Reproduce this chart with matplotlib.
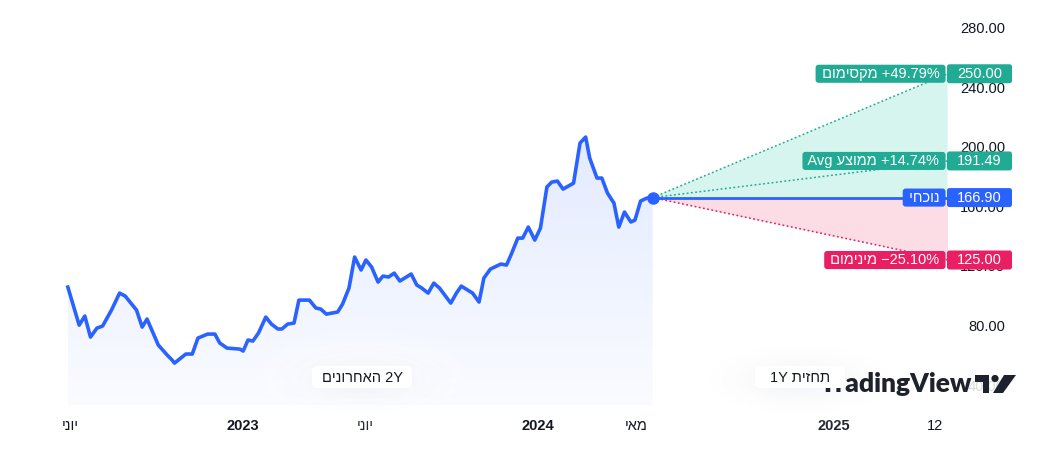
import matplotlib

matplotlib.use("Agg")
import matplotlib.dates as mdates
import matplotlib.pyplot as plt
import numpy as np
import pandas as pd
from matplotlib.colors import to_rgb
from matplotlib.patches import Circle, FancyBboxPatch, Polygon, Rectangle
from matplotlib.transforms import blended_transform_factory

# price history (turning points only)
dates = [
    "2022-05-29", "2022-06-12", "2022-06-19", "2022-06-26", "2022-07-04", "2022-07-11",
    "2022-07-22", "2022-08-01", "2022-08-08", "2022-08-22", "2022-08-29", "2022-09-04",
    "2022-09-18", "2022-09-29", "2022-10-05", "2022-10-08", "2022-10-22", "2022-10-30",
    "2022-11-06", "2022-11-18", "2022-11-27", "2022-12-03", "2022-12-12", "2022-12-28",
    "2023-01-01", "2023-01-07", "2023-01-13", "2023-01-20", "2023-01-29", "2023-02-05",
    "2023-02-13", "2023-02-18", "2023-02-25", "2023-03-05", "2023-03-11", "2023-03-24",
    "2023-04-01", "2023-04-07", "2023-04-14", "2023-04-28", "2023-05-04", "2023-05-12",
    "2023-05-19", "2023-05-27", "2023-06-02", "2023-06-09", "2023-06-17", "2023-06-23",
    "2023-06-30", "2023-07-07", "2023-07-14", "2023-07-28", "2023-08-04", "2023-08-10",
    "2023-08-18", "2023-08-25", "2023-09-01", "2023-09-15", "2023-09-22", "2023-09-28",
    "2023-10-12", "2023-10-20", "2023-10-26", "2023-11-03", "2023-11-16", "2023-11-23",
    "2023-11-29", "2023-12-07", "2023-12-13", "2023-12-20", "2023-12-28", "2024-01-04",
    "2024-01-12", "2024-01-18", "2024-01-25", "2024-02-01", "2024-02-14", "2024-02-22",
    "2024-02-29", "2024-03-05", "2024-03-14", "2024-03-20", "2024-03-27", "2024-04-04",
    "2024-04-10", "2024-04-17", "2024-04-25", "2024-04-30", "2024-05-07", "2024-05-15",
    "2024-05-22",
]
prices = [
    106.8, 81.3, 87.4, 73.3, 79.3, 80.7,
    91.4, 102.8, 100.8, 91.4, 80.0, 85.4,
    67.9, 61.2, 57.9, 55.8, 61.9, 61.9,
    72.6, 75.3, 75.3, 69.3, 65.9, 65.2,
    63.9, 71.3, 70.6, 76.0, 86.7, 82.0,
    78.7, 78.7, 82.0, 82.7, 98.1, 98.1,
    92.8, 92.1, 88.7, 90.1, 95.4, 106.2,
    127.0, 118.3, 125.0, 120.3, 110.2, 114.2,
    113.6, 116.2, 110.9, 115.6, 108.2, 106.2,
    102.8, 109.5, 106.2, 96.1, 102.8, 107.5,
    102.8, 96.8, 112.9, 118.9, 122.3, 121.6,
    129.0, 139.7, 139.7, 147.1, 138.4, 146.4,
    174.0, 177.3, 178.0, 172.6, 176.6, 203.5,
    207.5, 193.4, 180.0, 180.0, 169.9, 163.2,
    147.1, 157.2, 150.5, 151.8, 164.6, 166.6,
    166.90,
]

# 1Y analyst forecast
forecast_end = "2025-05-22"
current_price = 166.90
target_max = 250.00
target_avg = 191.49
target_min = 125.00
pct_max = "+49.79%"
pct_avg = "+14.74%"
pct_min = "\u221225.10%"

price_ticks = [40, 80, 120, 160, 200, 240, 280]
x_ticks = ["2022-06-01", "2023-01-01", "2023-06-01", "2024-01-01",
           "2024-05-01", "2025-01-01", "2025-05-06"]
x_labels = ["יוני", "2023", "יוני", "2024", "מאי", "2025", "12"]

BLUE = "#2962FF"
GREEN = "#22AB94"
RED = "#E91E63"
TEXT = "#131722"
W, H = 1054, 461


def heb(s):
    # matplotlib has no bidi support, so Hebrew words are reversed by hand
    return s[::-1]


def glow(ov, cx, cy, sx, sy, color, peak):
    # soft elliptical halo drawn on the pixel overlay
    xs = np.linspace(-3, 3, 120)
    g = np.exp(-(xs[None, :] ** 2 + xs[:, None] ** 2) / 2)
    img = np.zeros((120, 120, 4))
    img[..., :3] = to_rgb(color)
    img[..., 3] = peak * g
    ov.imshow(img, extent=[cx - 3 * sx, cx + 3 * sx, cy + 3 * sy, cy - 3 * sy],
              aspect="auto", interpolation="bilinear", zorder=1)


def main():
    plt.rcParams["font.family"] = ["Liberation Sans", "DejaVu Sans"]
    fig = plt.figure(figsize=(W / 100, H / 100), dpi=100)
    ax = fig.add_axes([0, 1 - 405 / H, 950 / W, 405 / H])
    for s in ax.spines.values():
        s.set_visible(False)

    t = mdates.date2num(pd.to_datetime(dates))
    y = np.array(prices)
    t_now = t[-1]
    t_end = mdates.date2num(pd.Timestamp(forecast_end))
    ybot, ytop = 27.7, 299.5

    # gradient area under the history line
    clip = Polygon([(t[0], ybot)] + list(zip(t, y)) + [(t[-1], ybot)],
                   closed=True, facecolor="none", edgecolor="none")
    ax.add_patch(clip)
    grad = np.zeros((256, 1, 4))
    grad[..., :3] = to_rgb(BLUE)
    grad[..., 3] = np.linspace(0.13, 0.025, 256)[:, None]
    im = ax.imshow(grad, extent=[t[0], t[-1], ybot, y.max()], aspect="auto",
                   origin="upper", zorder=1)
    im.set_clip_path(clip)

    # forecast cones
    ax.fill([t_now, t_end, t_end], [current_price, target_max, current_price],
            color="#D5F5EE", lw=0, zorder=1)
    ax.fill([t_now, t_end, t_end], [current_price, current_price, target_min],
            color="#FCDDE6", lw=0, zorder=1)
    dot = dict(lw=1.1, linestyle=(0, (1.2, 1.6)), zorder=2)
    ax.plot([t_now, t_end], [current_price, target_max], color=GREEN, **dot)
    ax.plot([t_now, t_end], [current_price, target_avg], color=GREEN, **dot)
    ax.plot([t_now, t_end], [current_price, target_min], color=RED, **dot)
    ax.plot([t_now, t_end], [current_price, current_price], color=BLUE, lw=2, zorder=3)

    ax.plot(t, y, color=BLUE, lw=2.6, solid_joinstyle="round", zorder=4)
    ax.plot([t_now], [current_price], "o", color=BLUE, ms=8, zorder=5)

    ax.set_xlim(mdates.date2num(pd.Timestamp("2022-03-06")),
                mdates.date2num(pd.Timestamp("2025-05-25")))
    ax.set_ylim(ybot, ytop)

    # x axis
    ax.set_xticks(mdates.date2num(pd.to_datetime(x_ticks)))
    ax.set_xticklabels([l if l.isdigit() else heb(l) for l in x_labels])
    ax.tick_params(axis="x", length=0, pad=10, labelsize=10.5, labelcolor=TEXT)
    for lab, raw in zip(ax.get_xticklabels(), x_labels):
        if len(raw) == 4 and raw.isdigit():
            lab.set_fontweight("bold")
    ax.set_yticks([])

    # price scale
    ytrans = blended_transform_factory(fig.transFigure, ax.transData)
    for p in price_ticks:
        ax.text(1005 / W, p, f"{p:.2f}", ha="right", va="center", fontsize=10.5,
                color=TEXT, transform=ytrans, clip_on=False, zorder=2)

    # pixel overlay for badges, chips and watermark
    ov = fig.add_axes([0, 0, 1, 1])
    ov.set_xlim(0, W)
    ov.set_ylim(H, 0)
    ov.axis("off")
    ov.patch.set_visible(False)

    def to_px(val):
        return H - ax.transData.transform((t_now, val))[1]

    badges = [
        (target_max, GREEN, f"{heb('מקסימום')} {pct_max}"),
        (target_avg, GREEN, f"Avg {heb('ממוצע')} {pct_avg}"),
        (current_price, BLUE, heb("נוכחי")),
        (target_min, RED, f"{heb('מינימום')} {pct_min}"),
    ]
    for val, col, label in badges:
        py = to_px(val)
        ov.add_patch(FancyBboxPatch((947, py - 9.5), 65, 19,
                                    boxstyle="round,pad=0,rounding_size=2.5",
                                    fc=col, ec="none", zorder=10))
        ov.text(979.5, py, f"{val:.2f}", ha="center", va="center", fontsize=10.5,
                color="white", zorder=11)
        ov.text(943.5, py, f" {label} ", ha="right", va="center", fontsize=10.5,
                color="white", zorder=11,
                bbox=dict(boxstyle="round,pad=0.14,rounding_size=0.2", fc=col, ec="none"))

    # watermark (partly over the 40.00 label)
    ov.add_patch(Rectangle((955, 375), 60, 20, fc="white", ec="none", alpha=0.85, zorder=3))
    ov.text(972, 384, "TradingView", ha="right", va="center", fontsize=19,
            family="Lato", fontweight="heavy", color="#1E222D", zorder=4)
    logo = "#1E222D"
    ov.add_patch(Rectangle((975, 375), 14, 6.5, fc=logo, ec="none", zorder=4))
    ov.add_patch(Rectangle((982.5, 375), 6.5, 18, fc=logo, ec="none", zorder=4))
    ov.add_patch(Circle((995, 378.5), 3.6, fc=logo, ec="none", zorder=4))
    ov.add_patch(Polygon([(1004, 375), (1016, 375), (1003, 393), (993, 393)],
                         fc=logo, ec="none", zorder=4))

    # period chips with a soft halo
    chips = [(362, 100, f"{heb('האחרונים')} 2Y"), (800, 90, f"1Y {heb('תחזית')}")]
    for cx, wd, label in chips:
        glow(ov, cx, 378, 55, 22, "white", 0.9)
        glow(ov, cx, 380, 38, 14, "#5a6690", 0.07)
        ov.add_patch(FancyBboxPatch((cx - wd / 2, 366), wd, 22,
                                    boxstyle="round,pad=0,rounding_size=5",
                                    fc="white", ec="none", zorder=6))
        ov.text(cx, 377.5, label, ha="center", va="center", fontsize=10.5,
                color=TEXT, zorder=7)

    ov.set_xlim(0, W)
    ov.set_ylim(H, 0)
    fig.savefig("out.png", dpi=100, facecolor="white")
    plt.close(fig)


if __name__ == "__main__":
    main()
